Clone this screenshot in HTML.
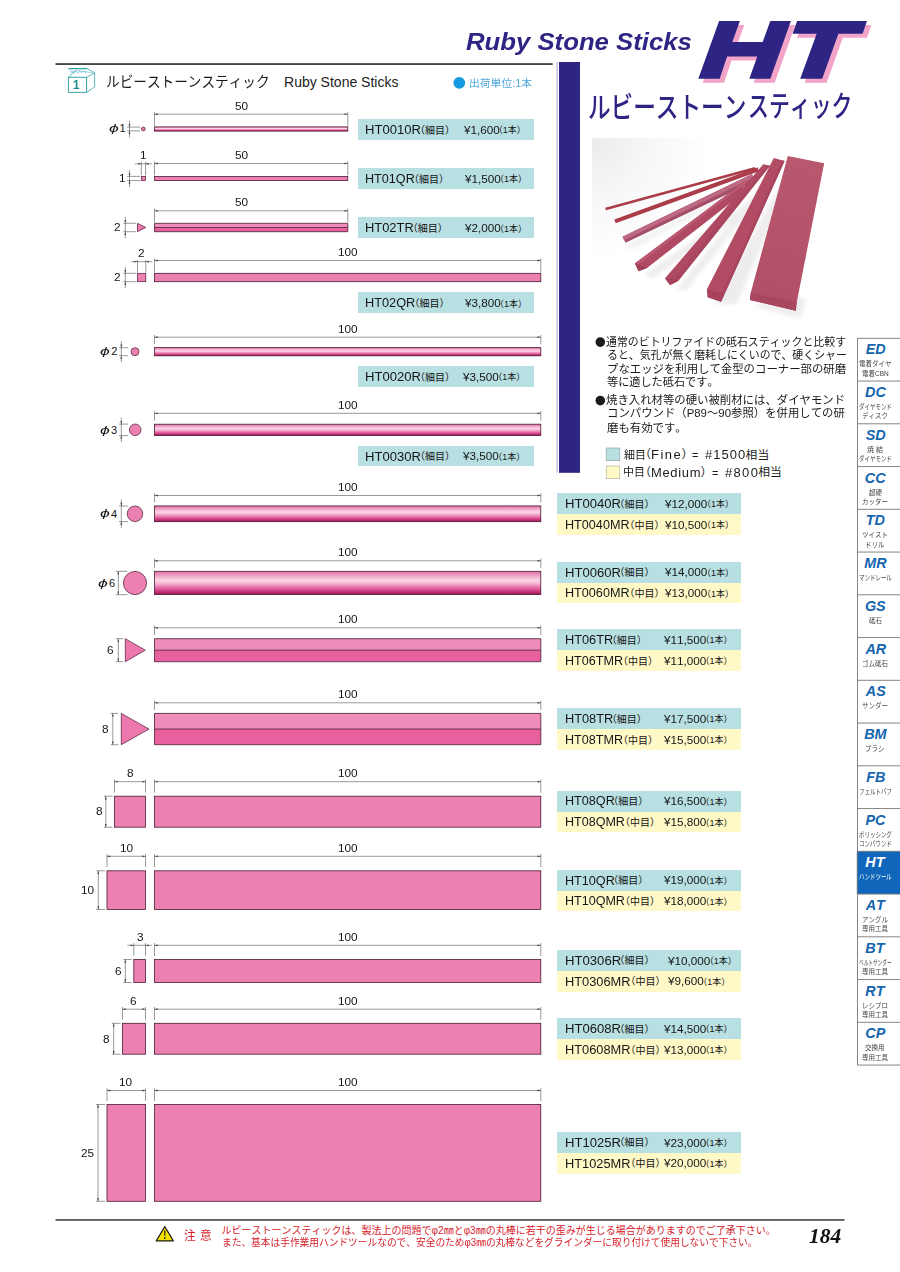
<!DOCTYPE html>
<html lang="ja"><head><meta charset="utf-8"><title>Ruby Stone Sticks HT</title><style>
html,body{margin:0;padding:0;background:#fff}
body{width:900px;height:1272px;position:relative;overflow:hidden;font-family:"Liberation Sans",sans-serif;font-kerning:none}
.gfx{position:absolute;left:0;top:0}
.bx{position:absolute}
.t{position:absolute;white-space:nowrap;transform-origin:0 0;font-family:"Liberation Sans",sans-serif;font-kerning:none;font-variant-ligatures:none}
.c{font-family:"Liberation Sans","Noto Sans CJK JP",sans-serif}
.sf{font-family:"Liberation Serif",serif}
.b{font-weight:700}.i{font-style:italic}
.j{position:absolute;overflow:visible}
</style></head>
<body>
<div class="bx" style="left:358px;top:119px;width:175.6px;height:20.7px;background:#b8dfe2"></div>
<div class="bx" style="left:358px;top:168.1px;width:175.6px;height:20.7px;background:#b8dfe2"></div>
<div class="bx" style="left:358px;top:217.2px;width:175.6px;height:20.7px;background:#b8dfe2"></div>
<div class="bx" style="left:358px;top:292.2px;width:175.6px;height:20.7px;background:#b8dfe2"></div>
<div class="bx" style="left:358px;top:366px;width:175.6px;height:20.7px;background:#b8dfe2"></div>
<div class="bx" style="left:358px;top:445.6px;width:175.6px;height:20.7px;background:#b8dfe2"></div>
<div class="bx" style="left:557.2px;top:493.2px;width:184.2px;height:21px;background:#b8dfe2"></div>
<div class="bx" style="left:557.2px;top:514.2px;width:184.2px;height:20.8px;background:#fff9c8"></div>
<div class="bx" style="left:557.2px;top:561.6px;width:184.2px;height:21px;background:#b8dfe2"></div>
<div class="bx" style="left:557.2px;top:582.6px;width:184.2px;height:20.8px;background:#fff9c8"></div>
<div class="bx" style="left:557.2px;top:629.2px;width:184.2px;height:21px;background:#b8dfe2"></div>
<div class="bx" style="left:557.2px;top:650.2px;width:184.2px;height:20.8px;background:#fff9c8"></div>
<div class="bx" style="left:557.2px;top:708.2px;width:184.2px;height:21px;background:#b8dfe2"></div>
<div class="bx" style="left:557.2px;top:729.2px;width:184.2px;height:20.8px;background:#fff9c8"></div>
<div class="bx" style="left:557.2px;top:790.5px;width:184.2px;height:21px;background:#b8dfe2"></div>
<div class="bx" style="left:557.2px;top:811.5px;width:184.2px;height:20.8px;background:#fff9c8"></div>
<div class="bx" style="left:557.2px;top:869.6px;width:184.2px;height:21px;background:#b8dfe2"></div>
<div class="bx" style="left:557.2px;top:890.6px;width:184.2px;height:20.8px;background:#fff9c8"></div>
<div class="bx" style="left:557.2px;top:949.8px;width:184.2px;height:21px;background:#b8dfe2"></div>
<div class="bx" style="left:557.2px;top:970.8px;width:184.2px;height:20.8px;background:#fff9c8"></div>
<div class="bx" style="left:557.2px;top:1018.2px;width:184.2px;height:21px;background:#b8dfe2"></div>
<div class="bx" style="left:557.2px;top:1039.2px;width:184.2px;height:20.8px;background:#fff9c8"></div>
<div class="bx" style="left:557.2px;top:1131.8px;width:184.2px;height:21px;background:#b8dfe2"></div>
<div class="bx" style="left:557.2px;top:1152.8px;width:184.2px;height:20.8px;background:#fff9c8"></div>
<svg class="gfx" width="900" height="1272" viewBox="0 0 900 1272"><defs><radialGradient id="pbg" gradientUnits="userSpaceOnUse" cx="592" cy="138" r="120"><stop offset="0" stop-color="#ebebeb"/><stop offset="0.5" stop-color="#f7f7f7"/><stop offset="1" stop-color="#ffffff"/></radialGradient><linearGradient id="b7" gradientUnits="userSpaceOnUse" x1="800" y1="160" x2="770" y2="300"><stop offset="0" stop-color="#b8586e"/><stop offset="1" stop-color="#b14f67"/></linearGradient><filter id="bl" x="-20%" y="-20%" width="140%" height="140%"><feGaussianBlur stdDeviation="2.2"/></filter></defs><rect x="592" y="138" width="125" height="125" fill="url(#pbg)"/><g fill="#cfc9cb" opacity="0.35" filter="url(#bl)"><path d="M645 274L757 196L760 200L652 279Z"/><path d="M676 290L772 172L778 174L686 290Z"/><path d="M714 304L790 168L796 170L736 304Z"/><path d="M752 306L800 318L806 300L800 296Z"/><path d="M627 246L750 184L751 187L630 249Z"/></g><line x1="605.6" y1="209" x2="755" y2="168.2" stroke="#ab3d49" stroke-width="2.7"/><line x1="615" y1="221.4" x2="758.3" y2="169.3" stroke="#ab3c49" stroke-width="4.1"/><path d="M622.5 236.7L752 174L754 181.5L625.5 242.7Z" fill="#a54e68"/><path d="M622.5 236.7L752 174L753 178L624.2 240.2Z" fill="#be6a84"/><path d="M635 263.3L746 180.5L740 195.5L647 268L638.5 271.3Z" fill="#b04a63"/><path d="M635 263.3L746 180.5L746.5 183L636.3 266Z" fill="#bb5a72"/><path d="M635 263.3L647 268L638.5 271.3Z" fill="#a23f58"/><path d="M763.3 164.3L770 165.8L678.3 280.8L670 285L665 278.3Z" fill="#b04a63"/><path d="M767.5 165.2L770 165.8L678.3 280.8L670 285L674.5 278.5Z" fill="#a9465f"/><path d="M665 278.3L674.5 278.5L678.3 280.8L670 285Z" fill="#a6425b"/><path d="M773.8 158L784.6 161L724.7 293.8L721.1 301.8L707.8 297.3L706.9 289.3Z" fill="#b24c65"/><path d="M782 160.3L784.6 161L724.7 293.8L721.9 293.1Z" fill="#a9465f"/><path d="M706.9 289.3L724.7 293.8L721.1 301.8L707.8 297.3Z" fill="#a6425c"/><path d="M787.8 156.1L824.2 163.3L796.7 302.5L795.8 310.8L750 300L750.8 292.5Z" fill="url(#b7)"/><path d="M750.8 292.5L796.7 302.5L795.8 310.8L750 300Z" fill="#a9465f"/></svg>
<svg class="gfx" width="900" height="1272" viewBox="0 0 900 1272"><rect x="55.5" y="63.3" width="497.2" height="1.5" fill="#1a1a1a"/><rect x="556.6" y="62" width="1" height="410.8" fill="#a5a1d3"/><rect x="559" y="62" width="21" height="410.8" fill="#2d2484"/><rect x="55.5" y="1219.3" width="789" height="1.3" fill="#1a1a1a"/><path transform="translate(4.4 4)" d="M719.1 21H739.9L732.3 42H762.7L770.3 21H790.9L770.3 78.7H749.3L757.3 56.5H727.1L719.7 78.7H698.3ZM797.1 21H867L862.5 33.8H838.4L822.2 78.7H800.2L816.7 33.8H792.6Z" fill="#f2a3c8"/><path transform="translate(0 0)" d="M719.1 21H739.9L732.3 42H762.7L770.3 21H790.9L770.3 78.7H749.3L757.3 56.5H727.1L719.7 78.7H698.3ZM797.1 21H867L862.5 33.8H838.4L822.2 78.7H800.2L816.7 33.8H792.6Z" fill="#2d2484"/><circle cx="459.3" cy="82.8" r="5.9" fill="#169ae0"/><g fill="none" stroke="#35a3a3" stroke-width="1"><path d="M68.4 77.3H86.6V92.4H68.4Z" fill="#fff"/><path d="M68.4 77.3L75.5 70.2M86.6 77.3L94.6 72.9V86.9L86.6 92.4M87.4 68.8L94.6 72.9" stroke-width="0.8"/><path d="M68.3 68.6H87.4" stroke-width="1.3"/><path d="M68.5 69L73.5 73.6M75.5 70.2L93 73" stroke-width="0.6" stroke="#6dbcbc"/><path d="M71 72.6l1.6-1.8 1.8 1.8 1.8-1.4 1.8 1.6 1.8-1.8 1.8 1.8 1.8-1.8 2 1.4 1.5-1.2" stroke="#6fc0ea" stroke-width="0.9"/></g><defs><linearGradient id="rg" x1="0" y1="0" x2="0" y2="1"><stop offset="0" stop-color="#dc78a7"/><stop offset="0.12" stop-color="#e98fb9"/><stop offset="0.28" stop-color="#f6bcd6"/><stop offset="0.4" stop-color="#fcd5e7"/><stop offset="0.52" stop-color="#f6b4d2"/><stop offset="0.66" stop-color="#ea7eb1"/><stop offset="0.8" stop-color="#d84a8e"/><stop offset="0.92" stop-color="#b62869"/><stop offset="1" stop-color="#8c1950"/></linearGradient></defs><rect x="154.5" y="126.9" width="193.3" height="4.2" fill="url(#rg)" stroke="#4a1a34" stroke-width="0.8"/><circle cx="143.3" cy="129" r="1.9" fill="#eb80b1" stroke="#4a1a34" stroke-width="0.7"/><rect x="154.5" y="176.4" width="193.3" height="4.2" fill="#eb80b1" stroke="#4a1a34" stroke-width="0.8"/><rect x="141.3" y="176.4" width="4.3" height="4.2" fill="#eb80b1" stroke="#4a1a34" stroke-width="0.7"/><rect x="154.5" y="223.3" width="193.3" height="4.2" fill="#ee8dba"/><rect x="154.5" y="227.5" width="193.3" height="4.2" fill="#e9609f"/><path d="M154.5 223.3H347.8V231.7H154.5ZM154.5 227.5H347.8" fill="none" stroke="#4a1a34" stroke-width="0.8"/><path d="M137.5 223.3V231.7L145.8 227.5Z" fill="#ec78ae" stroke="#4a1a34" stroke-width="0.7"/><rect x="154.5" y="273.3" width="386.3" height="8.4" fill="#eb80b1" stroke="#4a1a34" stroke-width="0.8"/><rect x="137.5" y="273.3" width="8.3" height="8.4" fill="#eb80b1" stroke="#4a1a34" stroke-width="0.7"/><rect x="154.5" y="347.6" width="386.3" height="8.2" fill="url(#rg)" stroke="#4a1a34" stroke-width="0.8"/><circle cx="135" cy="351.7" r="4" fill="#eb80b1" stroke="#4a1a34" stroke-width="0.7"/><rect x="154.5" y="424.2" width="386.3" height="11.3" fill="url(#rg)" stroke="#4a1a34" stroke-width="0.8"/><circle cx="135.2" cy="429.8" r="5.8" fill="#eb80b1" stroke="#4a1a34" stroke-width="0.7"/><rect x="154.5" y="505.9" width="386.3" height="15.8" fill="url(#rg)" stroke="#4a1a34" stroke-width="0.8"/><circle cx="135" cy="513.8" r="7.8" fill="#eb80b1" stroke="#4a1a34" stroke-width="0.7"/><rect x="154.5" y="571.3" width="386.3" height="23.3" fill="url(#rg)" stroke="#4a1a34" stroke-width="0.8"/><circle cx="135" cy="583" r="11.6" fill="#eb80b1" stroke="#4a1a34" stroke-width="0.7"/><rect x="154.5" y="638.7" width="386.3" height="11.5" fill="#ee8dba"/><rect x="154.5" y="650.2" width="386.3" height="11.5" fill="#e9609f"/><path d="M154.5 638.7H540.8V661.7H154.5ZM154.5 650.2H540.8" fill="none" stroke="#4a1a34" stroke-width="0.8"/><path d="M125.3 638.7V661.7L145.3 650.2Z" fill="#ec78ae" stroke="#4a1a34" stroke-width="0.7"/><rect x="154.5" y="713.4" width="386.3" height="15.65" fill="#ee8dba"/><rect x="154.5" y="729.05" width="386.3" height="15.65" fill="#e9609f"/><path d="M154.5 713.4H540.8V744.7H154.5ZM154.5 729.05H540.8" fill="none" stroke="#4a1a34" stroke-width="0.8"/><path d="M121.3 713.4V744.7L149 729.1Z" fill="#ec78ae" stroke="#4a1a34" stroke-width="0.7"/><rect x="154.5" y="796.2" width="386.3" height="31" fill="#eb80b1" stroke="#4a1a34" stroke-width="0.8"/><rect x="114.5" y="796.2" width="31" height="31" fill="#eb80b1" stroke="#4a1a34" stroke-width="0.8"/><rect x="154.5" y="870.8" width="386.3" height="38.7" fill="#eb80b1" stroke="#4a1a34" stroke-width="0.8"/><rect x="107" y="870.8" width="38.5" height="38.7" fill="#eb80b1" stroke="#4a1a34" stroke-width="0.8"/><rect x="154.5" y="959.5" width="386.3" height="23" fill="#eb80b1" stroke="#4a1a34" stroke-width="0.8"/><rect x="133.8" y="959.5" width="11.7" height="23" fill="#eb80b1" stroke="#4a1a34" stroke-width="0.8"/><rect x="154.5" y="1023.3" width="386.3" height="30.9" fill="#eb80b1" stroke="#4a1a34" stroke-width="0.8"/><rect x="122.5" y="1023.3" width="23" height="30.9" fill="#eb80b1" stroke="#4a1a34" stroke-width="0.8"/><rect x="154.5" y="1104.5" width="386.3" height="96.8" fill="#eb80b1" stroke="#4a1a34" stroke-width="0.8"/><rect x="107" y="1104.5" width="38.5" height="96.8" fill="#eb80b1" stroke="#4a1a34" stroke-width="0.8"/><path d="M154.5 112V125.9M347.8 112V125.9M154.5 114.2H347.8M127 127.1H140M127 130.9H140M129.5 120.6V137.4M154.5 161.3V175.4M347.8 161.3V175.4M154.5 163.5H347.8M141.3 161.7V175.3M145.6 161.7V175.3M134.8 163.8H152.1M127 176.4H140M127 180.6H140M129.5 169.9V187.1M154.5 208.6V222.3M347.8 208.6V222.3M154.5 210.8H347.8M123.3 223.3H135.8M123.3 231.7H135.8M125.3 216.8V238.2M154.5 258.3V272.3M540.8 258.3V272.3M154.5 260.5H540.8M137.5 260V272.3M145.8 260V272.3M131 261.7H152.3M123.3 273.3H135.8M123.3 281.7H135.8M125.3 266.8V288.2M154.5 335V344.1M540.8 335V344.1M154.5 337.2H540.8M119 347.7H128M119 355.7H128M121.3 341.2V362.2M154.5 411.1V420.7M540.8 411.1V420.7M154.5 413.3H540.8M119 424.1H128M119 435.6H128M121.3 417.6V442.1M154.5 493.3V502.4M540.8 493.3V502.4M154.5 495.5H540.8M119 506H128M119 521.6H128M121.3 499.5V528.1M154.5 558.6V567.8M540.8 558.6V567.8M154.5 560.8H540.8M115.8 571.3H127.5M115.8 594.7H127.5M118.3 571.3V594.7M154.5 625.6V635.2M540.8 625.6V635.2M154.5 627.8H540.8M115.8 638.7H123.3M115.8 661.7H123.3M118.3 638.7V661.7M154.5 700.6V709.9M540.8 700.6V709.9M154.5 702.8H540.8M110.8 713.4H118.3M110.8 744.7H118.3M112.8 713.4V744.7M154.5 779.5V792.7M540.8 779.5V792.7M154.5 781.7H540.8M114.5 779.5V792.5M145.5 779.5V792.5M114.5 781.7H145.5M103.8 796.2H112.5M103.8 827.2H112.5M105.8 796.2V827.2M154.5 854.1V867.3M540.8 854.1V867.3M154.5 856.3H540.8M107 854.1V867M145.5 854.1V867M107 856.3H145.5M96.2 870.8H105M96.2 909.5H105M98.3 870.8V909.5M154.5 943.1V956M540.8 943.1V956M154.5 945.3H540.8M133.8 943.1V955.8M145.5 943.1V955.8M127.3 945.3H152M123.3 959.5H131.7M123.3 982.5H131.7M125.3 959.5V982.5M154.5 1007V1019.8M540.8 1007V1019.8M154.5 1009.2H540.8M122.5 1007V1019.8M145.5 1007V1019.8M122.5 1009.2H145.5M111.7 1023.3H120.5M111.7 1054.2H120.5M113.7 1023.3V1054.2M154.5 1088.3V1101M540.8 1088.3V1101M154.5 1090.5H540.8M107 1088.3V1100.8M145.5 1088.3V1100.8M107 1090.5H145.5M95.8 1104.5H105M95.8 1201.3H105M98 1104.5V1201.3" fill="none" stroke="#444" stroke-width="0.55"/><path d="M154.5 114.2L157.7 113.3L157.7 115.1ZM347.8 114.2L344.6 115.1L344.6 113.3ZM129.5 127.1L128.6 123.9L130.4 123.9ZM129.5 130.9L130.4 134.1L128.6 134.1ZM154.5 163.5L157.7 162.6L157.7 164.4ZM347.8 163.5L344.6 164.4L344.6 162.6ZM141.3 163.8L138.1 164.7L138.1 162.9ZM145.6 163.8L148.8 162.9L148.8 164.7ZM129.5 176.4L128.6 173.2L130.4 173.2ZM129.5 180.6L130.4 183.8L128.6 183.8ZM154.5 210.8L157.7 209.9L157.7 211.7ZM347.8 210.8L344.6 211.7L344.6 209.9ZM125.3 223.3L124.4 220.1L126.2 220.1ZM125.3 231.7L126.2 234.9L124.4 234.9ZM154.5 260.5L157.7 259.6L157.7 261.4ZM540.8 260.5L537.6 261.4L537.6 259.6ZM137.5 261.7L134.3 262.6L134.3 260.8ZM145.8 261.7L149 260.8L149 262.6ZM125.3 273.3L124.4 270.1L126.2 270.1ZM125.3 281.7L126.2 284.9L124.4 284.9ZM154.5 337.2L157.7 336.3L157.7 338.1ZM540.8 337.2L537.6 338.1L537.6 336.3ZM121.3 347.7L120.4 344.5L122.2 344.5ZM121.3 355.7L122.2 358.9L120.4 358.9ZM154.5 413.3L157.7 412.4L157.7 414.2ZM540.8 413.3L537.6 414.2L537.6 412.4ZM121.3 424.1L120.4 420.9L122.2 420.9ZM121.3 435.6L122.2 438.8L120.4 438.8ZM154.5 495.5L157.7 494.6L157.7 496.4ZM540.8 495.5L537.6 496.4L537.6 494.6ZM121.3 506L120.4 502.8L122.2 502.8ZM121.3 521.6L122.2 524.8L120.4 524.8ZM154.5 560.8L157.7 559.9L157.7 561.7ZM540.8 560.8L537.6 561.7L537.6 559.9ZM118.3 571.3L119.2 574.5L117.4 574.5ZM118.3 594.7L117.4 591.5L119.2 591.5ZM154.5 627.8L157.7 626.9L157.7 628.7ZM540.8 627.8L537.6 628.7L537.6 626.9ZM118.3 638.7L119.2 641.9L117.4 641.9ZM118.3 661.7L117.4 658.5L119.2 658.5ZM154.5 702.8L157.7 701.9L157.7 703.7ZM540.8 702.8L537.6 703.7L537.6 701.9ZM112.8 713.4L113.7 716.6L111.9 716.6ZM112.8 744.7L111.9 741.5L113.7 741.5ZM154.5 781.7L157.7 780.8L157.7 782.6ZM540.8 781.7L537.6 782.6L537.6 780.8ZM114.5 781.7L117.7 780.8L117.7 782.6ZM145.5 781.7L142.3 782.6L142.3 780.8ZM105.8 796.2L106.7 799.4L104.9 799.4ZM105.8 827.2L104.9 824L106.7 824ZM154.5 856.3L157.7 855.4L157.7 857.2ZM540.8 856.3L537.6 857.2L537.6 855.4ZM107 856.3L110.2 855.4L110.2 857.2ZM145.5 856.3L142.3 857.2L142.3 855.4ZM98.3 870.8L99.2 874L97.4 874ZM98.3 909.5L97.4 906.3L99.2 906.3ZM154.5 945.3L157.7 944.4L157.7 946.2ZM540.8 945.3L537.6 946.2L537.6 944.4ZM133.8 945.3L130.6 946.2L130.6 944.4ZM145.5 945.3L148.7 944.4L148.7 946.2ZM125.3 959.5L126.2 962.7L124.4 962.7ZM125.3 982.5L124.4 979.3L126.2 979.3ZM154.5 1009.2L157.7 1008.3L157.7 1010.1ZM540.8 1009.2L537.6 1010.1L537.6 1008.3ZM122.5 1009.2L125.7 1008.3L125.7 1010.1ZM145.5 1009.2L142.3 1010.1L142.3 1008.3ZM113.7 1023.3L114.6 1026.5L112.8 1026.5ZM113.7 1054.2L112.8 1051L114.6 1051ZM154.5 1090.5L157.7 1089.6L157.7 1091.4ZM540.8 1090.5L537.6 1091.4L537.6 1089.6ZM107 1090.5L110.2 1089.6L110.2 1091.4ZM145.5 1090.5L142.3 1091.4L142.3 1089.6ZM98 1104.5L98.9 1107.7L97.1 1107.7ZM98 1201.3L97.1 1198.1L98.9 1198.1Z" fill="#444"/><circle cx="600.3" cy="342.1" r="4.8" fill="#1a1a1a"/><circle cx="600.3" cy="400.6" r="4.8" fill="#1a1a1a"/><rect x="606.2" y="448" width="13.6" height="12.7" fill="#b8dfe2" stroke="#8a9a9a" stroke-width="0.6"/><rect x="606.2" y="466" width="13.6" height="12.7" fill="#fff9c8" stroke="#a8a890" stroke-width="0.6"/><rect x="856.8" y="851.3" width="43.4" height="42.75" fill="#0f66ba"/><path d="M857.5 338.3V1065.05M857.2 338.3H900M857.2 381.05H900M857.2 423.8H900M857.2 466.55H900M857.2 509.3H900M857.2 552.05H900M857.2 594.8H900M857.2 637.55H900M857.2 680.3H900M857.2 723.05H900M857.2 765.8H900M857.2 808.55H900M857.2 851.3H900M857.2 894.05H900M857.2 936.8H900M857.2 979.55H900M857.2 1022.3H900M857.2 1065.05H900" fill="none" stroke="#777" stroke-width="0.9"/><path d="M164.8 1226.6L173.4 1240.9H156.2Z" fill="#f2e100" stroke="#1a1a1a" stroke-width="1.1" stroke-linejoin="round"/><path d="M164.1 1230.6h1.4l-0.3 5.6h-0.8zM164.8 1237.2a0.8 0.8 0 1 0 0.01 0z" fill="#1a1a1a"/></svg>
<span class="t" style="left:235.25px;top:100.59px;font-size:11px;line-height:11px;color:#151515;transform:scaleX(1.070);">50</span>
<span class="t i" style="left:108.64px;top:123.36px;font-size:11.5px;line-height:11.5px;color:#151515;transform:scaleX(1.521);">ϕ</span>
<span class="t" style="left:119.42px;top:123.49px;font-size:11px;line-height:11px;color:#151515;">1</span>
<span class="t" style="left:235.25px;top:149.89px;font-size:11px;line-height:11px;color:#151515;transform:scaleX(1.070);">50</span>
<span class="t" style="left:139.97px;top:150.39px;font-size:11px;line-height:11px;color:#151515;transform:scaleX(1.070);">1</span>
<span class="t" style="left:119.4px;top:172.99px;font-size:11px;line-height:11px;color:#151515;transform:scaleX(1.070);">1</span>
<span class="t" style="left:235.25px;top:197.19px;font-size:11px;line-height:11px;color:#151515;transform:scaleX(1.070);">50</span>
<span class="t" style="left:114.41px;top:221.59px;font-size:11px;line-height:11px;color:#151515;transform:scaleX(1.070);">2</span>
<span class="t" style="left:337.61px;top:246.89px;font-size:11px;line-height:11px;color:#151515;transform:scaleX(1.070);">100</span>
<span class="t" style="left:138.43px;top:248.29px;font-size:11px;line-height:11px;color:#151515;transform:scaleX(1.070);">2</span>
<span class="t" style="left:114.41px;top:271.99px;font-size:11px;line-height:11px;color:#151515;transform:scaleX(1.070);">2</span>
<span class="t" style="left:337.61px;top:323.59px;font-size:11px;line-height:11px;color:#151515;transform:scaleX(1.070);">100</span>
<span class="t i" style="left:99.74px;top:346.16px;font-size:11.5px;line-height:11.5px;color:#151515;transform:scaleX(1.521);">ϕ</span>
<span class="t" style="left:111.14px;top:346.29px;font-size:11px;line-height:11px;color:#151515;">2</span>
<span class="t" style="left:337.61px;top:399.69px;font-size:11px;line-height:11px;color:#151515;transform:scaleX(1.070);">100</span>
<span class="t i" style="left:99.74px;top:424.56px;font-size:11.5px;line-height:11.5px;color:#151515;transform:scaleX(1.521);">ϕ</span>
<span class="t" style="left:111.07px;top:424.69px;font-size:11px;line-height:11px;color:#151515;">3</span>
<span class="t" style="left:337.61px;top:481.89px;font-size:11px;line-height:11px;color:#151515;transform:scaleX(1.070);">100</span>
<span class="t i" style="left:99.74px;top:508.46px;font-size:11.5px;line-height:11.5px;color:#151515;transform:scaleX(1.521);">ϕ</span>
<span class="t" style="left:110.9px;top:508.59px;font-size:11px;line-height:11px;color:#151515;">4</span>
<span class="t" style="left:337.61px;top:547.19px;font-size:11px;line-height:11px;color:#151515;transform:scaleX(1.070);">100</span>
<span class="t i" style="left:97.74px;top:578.16px;font-size:11.5px;line-height:11.5px;color:#151515;transform:scaleX(1.521);">ϕ</span>
<span class="t" style="left:109.07px;top:578.29px;font-size:11px;line-height:11px;color:#151515;">6</span>
<span class="t" style="left:337.61px;top:614.19px;font-size:11px;line-height:11px;color:#151515;transform:scaleX(1.070);">100</span>
<span class="t" style="left:107.4px;top:645.39px;font-size:11px;line-height:11px;color:#151515;transform:scaleX(1.070);">6</span>
<span class="t" style="left:337.61px;top:689.19px;font-size:11px;line-height:11px;color:#151515;transform:scaleX(1.070);">100</span>
<span class="t" style="left:102.49px;top:723.99px;font-size:11px;line-height:11px;color:#151515;transform:scaleX(1.070);">8</span>
<span class="t" style="left:337.61px;top:768.09px;font-size:11px;line-height:11px;color:#151515;transform:scaleX(1.070);">100</span>
<span class="t" style="left:127.33px;top:768.29px;font-size:11px;line-height:11px;color:#151515;transform:scaleX(1.070);">8</span>
<span class="t" style="left:95.69px;top:805.69px;font-size:11px;line-height:11px;color:#151515;transform:scaleX(1.070);">8</span>
<span class="t" style="left:337.61px;top:842.69px;font-size:11px;line-height:11px;color:#151515;transform:scaleX(1.070);">100</span>
<span class="t" style="left:119.84px;top:842.99px;font-size:11px;line-height:11px;color:#151515;transform:scaleX(1.070);">10</span>
<span class="t" style="left:81.1px;top:884.99px;font-size:11px;line-height:11px;color:#151515;transform:scaleX(1.070);">10</span>
<span class="t" style="left:337.61px;top:931.69px;font-size:11px;line-height:11px;color:#151515;transform:scaleX(1.070);">100</span>
<span class="t" style="left:136.96px;top:931.59px;font-size:11px;line-height:11px;color:#151515;transform:scaleX(1.070);">3</span>
<span class="t" style="left:115.2px;top:966.29px;font-size:11px;line-height:11px;color:#151515;transform:scaleX(1.070);">6</span>
<span class="t" style="left:337.61px;top:995.59px;font-size:11px;line-height:11px;color:#151515;transform:scaleX(1.070);">100</span>
<span class="t" style="left:130.49px;top:995.69px;font-size:11px;line-height:11px;color:#151515;transform:scaleX(1.070);">6</span>
<span class="t" style="left:103.39px;top:1033.59px;font-size:11px;line-height:11px;color:#151515;transform:scaleX(1.070);">8</span>
<span class="t" style="left:337.61px;top:1076.89px;font-size:11px;line-height:11px;color:#151515;transform:scaleX(1.070);">100</span>
<span class="t" style="left:119.24px;top:1076.59px;font-size:11px;line-height:11px;color:#151515;transform:scaleX(1.070);">10</span>
<span class="t" style="left:80.91px;top:1147.79px;font-size:11px;line-height:11px;color:#151515;transform:scaleX(1.070);">25</span>
<span class="t" style="left:365.13px;top:124.04px;font-size:12px;line-height:12px;color:#151515;transform:scaleX(1.090);">HT0010R</span>
<span class="t c" style="left:415px;top:125.5px;font-size:10px;line-height:10px;color:#151515;">（細目）</span>
<span class="t" style="left:463.81px;top:124.89px;font-size:11px;line-height:11px;color:#151515;transform:scaleX(1.065);">¥1,600</span>
<span class="t c" style="left:493.8px;top:126.35px;font-size:9px;line-height:9px;color:#151515;">（1本）</span>
<span class="t" style="left:365.16px;top:173.14px;font-size:12px;line-height:12px;color:#151515;transform:scaleX(1.052);">HT01QR</span>
<span class="t c" style="left:408.9px;top:174.6px;font-size:10px;line-height:10px;color:#151515;">（細目）</span>
<span class="t" style="left:465.11px;top:173.99px;font-size:11px;line-height:11px;color:#151515;transform:scaleX(1.065);">¥1,500</span>
<span class="t c" style="left:495.1px;top:175.45px;font-size:9px;line-height:9px;color:#151515;">（1本）</span>
<span class="t" style="left:365.14px;top:222.24px;font-size:12px;line-height:12px;color:#151515;transform:scaleX(1.075);">HT02TR</span>
<span class="t c" style="left:407.8px;top:223.7px;font-size:10px;line-height:10px;color:#151515;">（細目）</span>
<span class="t" style="left:465.11px;top:223.09px;font-size:11px;line-height:11px;color:#151515;transform:scaleX(1.065);">¥2,000</span>
<span class="t c" style="left:495.1px;top:224.55px;font-size:9px;line-height:9px;color:#151515;">（1本）</span>
<span class="t" style="left:365.15px;top:297.24px;font-size:12px;line-height:12px;color:#151515;transform:scaleX(1.063);">HT02QR</span>
<span class="t c" style="left:409.4px;top:298.7px;font-size:10px;line-height:10px;color:#151515;">（細目）</span>
<span class="t" style="left:465.11px;top:298.09px;font-size:11px;line-height:11px;color:#151515;transform:scaleX(1.065);">¥3,800</span>
<span class="t c" style="left:495.1px;top:299.55px;font-size:9px;line-height:9px;color:#151515;">（1本）</span>
<span class="t" style="left:365.13px;top:371.04px;font-size:12px;line-height:12px;color:#151515;transform:scaleX(1.090);">HT0020R</span>
<span class="t c" style="left:415px;top:372.5px;font-size:10px;line-height:10px;color:#151515;">（細目）</span>
<span class="t" style="left:463.31px;top:371.89px;font-size:11px;line-height:11px;color:#151515;transform:scaleX(1.065);">¥3,500</span>
<span class="t c" style="left:493.3px;top:373.35px;font-size:9px;line-height:9px;color:#151515;">（1本）</span>
<span class="t" style="left:365.13px;top:450.64px;font-size:12px;line-height:12px;color:#151515;transform:scaleX(1.090);">HT0030R</span>
<span class="t c" style="left:415px;top:452.1px;font-size:10px;line-height:10px;color:#151515;">（細目）</span>
<span class="t" style="left:463.31px;top:451.49px;font-size:11px;line-height:11px;color:#151515;transform:scaleX(1.065);">¥3,500</span>
<span class="t c" style="left:493.3px;top:452.95px;font-size:9px;line-height:9px;color:#151515;">（1本）</span>
<span class="t" style="left:564.53px;top:498.14px;font-size:12px;line-height:12px;color:#151515;transform:scaleX(1.092);">HT0040R</span>
<span class="t c" style="left:614.5px;top:499.6px;font-size:10px;line-height:10px;color:#151515;">（細目）</span>
<span class="t" style="left:665.41px;top:498.99px;font-size:11px;line-height:11px;color:#151515;transform:scaleX(1.065);">¥12,000</span>
<span class="t c" style="left:701.9px;top:500.45px;font-size:9px;line-height:9px;color:#151515;">（1本）</span>
<span class="t" style="left:564.56px;top:519.04px;font-size:12px;line-height:12px;color:#151515;transform:scaleX(1.052);">HT0040MR</span>
<span class="t c" style="left:624.5px;top:520.5px;font-size:10px;line-height:10px;color:#151515;">（中目）</span>
<span class="t" style="left:665.41px;top:519.89px;font-size:11px;line-height:11px;color:#151515;transform:scaleX(1.065);">¥10,500</span>
<span class="t c" style="left:701.9px;top:521.35px;font-size:9px;line-height:9px;color:#151515;">（1本）</span>
<span class="t" style="left:564.53px;top:566.54px;font-size:12px;line-height:12px;color:#151515;transform:scaleX(1.092);">HT0060R</span>
<span class="t c" style="left:614.5px;top:568px;font-size:10px;line-height:10px;color:#151515;">（細目）</span>
<span class="t" style="left:665.41px;top:567.39px;font-size:11px;line-height:11px;color:#151515;transform:scaleX(1.065);">¥14,000</span>
<span class="t c" style="left:701.9px;top:568.85px;font-size:9px;line-height:9px;color:#151515;">（1本）</span>
<span class="t" style="left:564.56px;top:587.44px;font-size:12px;line-height:12px;color:#151515;transform:scaleX(1.052);">HT0060MR</span>
<span class="t c" style="left:624.5px;top:588.9px;font-size:10px;line-height:10px;color:#151515;">（中目）</span>
<span class="t" style="left:665.41px;top:588.29px;font-size:11px;line-height:11px;color:#151515;transform:scaleX(1.065);">¥13,000</span>
<span class="t c" style="left:701.9px;top:589.75px;font-size:9px;line-height:9px;color:#151515;">（1本）</span>
<span class="t" style="left:564.55px;top:634.14px;font-size:12px;line-height:12px;color:#151515;transform:scaleX(1.064);">HT06TR</span>
<span class="t c" style="left:606.7px;top:635.6px;font-size:10px;line-height:10px;color:#151515;">（細目）</span>
<span class="t" style="left:664.01px;top:634.99px;font-size:11px;line-height:11px;color:#151515;transform:scaleX(1.065);">¥11,500</span>
<span class="t c" style="left:700.5px;top:636.45px;font-size:9px;line-height:9px;color:#151515;">（1本）</span>
<span class="t" style="left:564.57px;top:655.04px;font-size:12px;line-height:12px;color:#151515;transform:scaleX(1.048);">HT06TMR</span>
<span class="t c" style="left:618px;top:656.5px;font-size:10px;line-height:10px;color:#151515;">（中目）</span>
<span class="t" style="left:664.01px;top:655.89px;font-size:11px;line-height:11px;color:#151515;transform:scaleX(1.065);">¥11,000</span>
<span class="t c" style="left:700.5px;top:657.35px;font-size:9px;line-height:9px;color:#151515;">（1本）</span>
<span class="t" style="left:564.55px;top:713.14px;font-size:12px;line-height:12px;color:#151515;transform:scaleX(1.064);">HT08TR</span>
<span class="t c" style="left:606.7px;top:714.6px;font-size:10px;line-height:10px;color:#151515;">（細目）</span>
<span class="t" style="left:664.01px;top:713.99px;font-size:11px;line-height:11px;color:#151515;transform:scaleX(1.065);">¥17,500</span>
<span class="t c" style="left:700.5px;top:715.45px;font-size:9px;line-height:9px;color:#151515;">（1本）</span>
<span class="t" style="left:564.57px;top:734.04px;font-size:12px;line-height:12px;color:#151515;transform:scaleX(1.048);">HT08TMR</span>
<span class="t c" style="left:618px;top:735.5px;font-size:10px;line-height:10px;color:#151515;">（中目）</span>
<span class="t" style="left:664.01px;top:734.89px;font-size:11px;line-height:11px;color:#151515;transform:scaleX(1.065);">¥15,500</span>
<span class="t c" style="left:700.5px;top:736.35px;font-size:9px;line-height:9px;color:#151515;">（1本）</span>
<span class="t" style="left:564.56px;top:795.44px;font-size:12px;line-height:12px;color:#151515;transform:scaleX(1.052);">HT08QR</span>
<span class="t c" style="left:608.3px;top:796.9px;font-size:10px;line-height:10px;color:#151515;">（細目）</span>
<span class="t" style="left:664.01px;top:796.29px;font-size:11px;line-height:11px;color:#151515;transform:scaleX(1.065);">¥16,500</span>
<span class="t c" style="left:700.5px;top:797.75px;font-size:9px;line-height:9px;color:#151515;">（1本）</span>
<span class="t" style="left:564.57px;top:816.34px;font-size:12px;line-height:12px;color:#151515;transform:scaleX(1.045);">HT08QMR</span>
<span class="t c" style="left:619.9px;top:817.8px;font-size:10px;line-height:10px;color:#151515;">（中目）</span>
<span class="t" style="left:664.01px;top:817.19px;font-size:11px;line-height:11px;color:#151515;transform:scaleX(1.065);">¥15,800</span>
<span class="t c" style="left:700.5px;top:818.65px;font-size:9px;line-height:9px;color:#151515;">（1本）</span>
<span class="t" style="left:564.56px;top:874.54px;font-size:12px;line-height:12px;color:#151515;transform:scaleX(1.052);">HT10QR</span>
<span class="t c" style="left:608.3px;top:876px;font-size:10px;line-height:10px;color:#151515;">（細目）</span>
<span class="t" style="left:664.01px;top:875.39px;font-size:11px;line-height:11px;color:#151515;transform:scaleX(1.065);">¥19,000</span>
<span class="t c" style="left:700.5px;top:876.85px;font-size:9px;line-height:9px;color:#151515;">（1本）</span>
<span class="t" style="left:564.57px;top:895.44px;font-size:12px;line-height:12px;color:#151515;transform:scaleX(1.045);">HT10QMR</span>
<span class="t c" style="left:619.9px;top:896.9px;font-size:10px;line-height:10px;color:#151515;">（中目）</span>
<span class="t" style="left:664.01px;top:896.29px;font-size:11px;line-height:11px;color:#151515;transform:scaleX(1.065);">¥18,000</span>
<span class="t c" style="left:700.5px;top:897.75px;font-size:9px;line-height:9px;color:#151515;">（1本）</span>
<span class="t" style="left:564.52px;top:954.74px;font-size:12px;line-height:12px;color:#151515;transform:scaleX(1.094);">HT0306R</span>
<span class="t c" style="left:614.6px;top:956.2px;font-size:10px;line-height:10px;color:#151515;">（細目）</span>
<span class="t" style="left:668.21px;top:955.59px;font-size:11px;line-height:11px;color:#151515;transform:scaleX(1.065);">¥10,000</span>
<span class="t c" style="left:704.7px;top:957.05px;font-size:9px;line-height:9px;color:#151515;">（1本）</span>
<span class="t" style="left:564.55px;top:975.64px;font-size:12px;line-height:12px;color:#151515;transform:scaleX(1.068);">HT0306MR</span>
<span class="t c" style="left:625.5px;top:977.1px;font-size:10px;line-height:10px;color:#151515;">（中目）</span>
<span class="t" style="left:668.21px;top:976.49px;font-size:11px;line-height:11px;color:#151515;transform:scaleX(1.065);">¥9,600</span>
<span class="t c" style="left:698.2px;top:977.95px;font-size:9px;line-height:9px;color:#151515;">（1本）</span>
<span class="t" style="left:564.53px;top:1023.14px;font-size:12px;line-height:12px;color:#151515;transform:scaleX(1.092);">HT0608R</span>
<span class="t c" style="left:614.5px;top:1024.6px;font-size:10px;line-height:10px;color:#151515;">（細目）</span>
<span class="t" style="left:664.01px;top:1023.99px;font-size:11px;line-height:11px;color:#151515;transform:scaleX(1.065);">¥14,500</span>
<span class="t c" style="left:700.5px;top:1025.45px;font-size:9px;line-height:9px;color:#151515;">（1本）</span>
<span class="t" style="left:564.55px;top:1044.04px;font-size:12px;line-height:12px;color:#151515;transform:scaleX(1.068);">HT0608MR</span>
<span class="t c" style="left:625.5px;top:1045.5px;font-size:10px;line-height:10px;color:#151515;">（中目）</span>
<span class="t" style="left:664.01px;top:1044.89px;font-size:11px;line-height:11px;color:#151515;transform:scaleX(1.065);">¥13,000</span>
<span class="t c" style="left:700.5px;top:1046.35px;font-size:9px;line-height:9px;color:#151515;">（1本）</span>
<span class="t" style="left:564.53px;top:1136.74px;font-size:12px;line-height:12px;color:#151515;transform:scaleX(1.092);">HT1025R</span>
<span class="t c" style="left:614.5px;top:1138.2px;font-size:10px;line-height:10px;color:#151515;">（細目）</span>
<span class="t" style="left:664.01px;top:1137.59px;font-size:11px;line-height:11px;color:#151515;transform:scaleX(1.065);">¥23,000</span>
<span class="t c" style="left:700.5px;top:1139.05px;font-size:9px;line-height:9px;color:#151515;">（1本）</span>
<span class="t" style="left:564.55px;top:1157.64px;font-size:12px;line-height:12px;color:#151515;transform:scaleX(1.068);">HT1025MR</span>
<span class="t c" style="left:625.5px;top:1159.1px;font-size:10px;line-height:10px;color:#151515;">（中目）</span>
<span class="t" style="left:664.01px;top:1158.49px;font-size:11px;line-height:11px;color:#151515;transform:scaleX(1.065);">¥20,000</span>
<span class="t c" style="left:700.5px;top:1159.95px;font-size:9px;line-height:9px;color:#151515;">（1本）</span>
<span class="t b i" style="left:465.85px;top:30.87px;font-size:23.3px;line-height:23.3px;color:#2d2484;transform:scaleX(1.104);">Ruby Stone Sticks</span>
<span class="t c" style="left:587.5px;top:94px;font-size:29px;line-height:29px;font-weight:500;color:#2d2484;transform:scaleX(0.78);">ルビーストーン</span>
<span class="t c" style="left:747.8px;top:93px;font-size:29px;line-height:29px;font-weight:500;color:#2d2484;transform:scaleX(0.72);">スティック</span>
<span class="t b" style="left:73.16px;top:78.29px;font-size:13.6px;line-height:13.6px;color:#1b8c8c;transform:scaleX(0.869);">1</span>
<span class="t c" style="left:105.5px;top:74.7px;font-size:14.4px;line-height:14.4px;color:#1a1a1a;transform:scaleX(0.947);">ルビーストーンスティック</span>
<span class="t" style="left:284.05px;top:74.85px;font-size:14px;line-height:14px;color:#222;">Ruby Stone Sticks</span>
<span class="t c" style="left:469px;top:78.6px;font-size:10.4px;line-height:10.4px;color:#4da6dc;transform:scaleX(1.04);">出荷単位:1本</span>
<span class="t c" style="left:606.3px;top:336.87px;font-size:11.5px;line-height:11.5px;color:#1a1a1a;transform:scaleX(0.949);">通常のビトリファイドの砥石スティックと比較す</span>
<span class="t c" style="left:606.7px;top:350.3px;font-size:11.5px;line-height:11.5px;color:#1a1a1a;transform:scaleX(0.948);">ると、気孔が無く磨耗しにくいので、硬くシャー</span>
<span class="t c" style="left:606.7px;top:364.03px;font-size:11.5px;line-height:11.5px;color:#1a1a1a;transform:scaleX(0.99);">プなエッジを利用して金型のコーナー部の研磨</span>
<span class="t c" style="left:606.7px;top:377.41px;font-size:11.5px;line-height:11.5px;color:#1a1a1a;transform:scaleX(0.97);">等に適した砥石です。</span>
<span class="t c" style="left:606.2px;top:395.09px;font-size:11.5px;line-height:11.5px;color:#1a1a1a;transform:scaleX(0.99);">焼き入れ材等の硬い被削材には、ダイヤモンド</span>
<span class="t c" style="left:606.5px;top:408.48px;font-size:11.5px;line-height:11.5px;color:#1a1a1a;transform:scaleX(0.99);">コンパウンド（P89〜90参照）を併用しての研</span>
<span class="t c" style="left:606.5px;top:422.65px;font-size:11.5px;line-height:11.5px;color:#1a1a1a;transform:scaleX(0.99);">磨も有効です。</span>
<span class="t c" style="left:623.6px;top:449.57px;font-size:11.8px;line-height:11.8px;color:#1a1a1a;transform:scaleX(0.93);">細目</span>
<span class="t c" style="left:639.3px;top:449.48px;font-size:11.8px;line-height:11.8px;color:#1a1a1a;">（</span>
<span class="t" style="left:650.64px;top:449.24px;font-size:12px;line-height:12px;color:#1a1a1a;transform:scaleX(1.080);letter-spacing:1.4px;">Fine</span>
<span class="t c" style="left:681.6px;top:449.48px;font-size:11.8px;line-height:11.8px;color:#1a1a1a;">）</span>
<span class="t" style="left:692.37px;top:449.24px;font-size:12px;line-height:12px;color:#1a1a1a;transform:scaleX(0.909);">=</span>
<span class="t" style="left:704.84px;top:449.24px;font-size:12px;line-height:12px;color:#1a1a1a;transform:scaleX(1.080);letter-spacing:0.98px;">#1500</span>
<span class="t c" style="left:745.6px;top:449.55px;font-size:11.8px;line-height:11.8px;color:#1a1a1a;">相当</span>
<span class="t c" style="left:623.3px;top:467.47px;font-size:11.8px;line-height:11.8px;color:#1a1a1a;transform:scaleX(0.93);">中目</span>
<span class="t c" style="left:639.3px;top:467.38px;font-size:11.8px;line-height:11.8px;color:#1a1a1a;">（</span>
<span class="t" style="left:650.64px;top:467.14px;font-size:12px;line-height:12px;color:#1a1a1a;transform:scaleX(1.080);letter-spacing:0.62px;">Medium</span>
<span class="t c" style="left:700.4px;top:467.38px;font-size:11.8px;line-height:11.8px;color:#1a1a1a;">）</span>
<span class="t" style="left:712.37px;top:467.14px;font-size:12px;line-height:12px;color:#1a1a1a;transform:scaleX(0.909);">=</span>
<span class="t" style="left:724.94px;top:467.14px;font-size:12px;line-height:12px;color:#1a1a1a;transform:scaleX(1.080);letter-spacing:1.24px;">#800</span>
<span class="t c" style="left:758.2px;top:467.45px;font-size:11.8px;line-height:11.8px;color:#1a1a1a;">相当</span>
<span class="t b i" style="left:865.68px;top:342.31px;font-size:14.4px;line-height:14.4px;color:#1565ae;">ED</span>
<span class="t c" style="left:858.9px;top:360.4px;font-size:7.4px;line-height:7.4px;color:#444;transform:scaleX(0.88);">電着ダイヤ</span>
<span class="t c" style="left:861.65px;top:369.5px;font-size:7.4px;line-height:7.4px;color:#444;transform:scaleX(0.88);">電着CBN</span>
<span class="t b i" style="left:864.99px;top:385.06px;font-size:14.4px;line-height:14.4px;color:#1565ae;">DC</span>
<span class="t c" style="left:858.9px;top:403.15px;font-size:7.4px;line-height:7.4px;color:#444;transform:scaleX(0.74);">ダイヤモンド</span>
<span class="t c" style="left:862.1px;top:412.25px;font-size:7.4px;line-height:7.4px;color:#444;transform:scaleX(0.88);">ディスク</span>
<span class="t b i" style="left:865.71px;top:427.81px;font-size:14.4px;line-height:14.4px;color:#1565ae;">SD</span>
<span class="t c" style="left:866.95px;top:445.9px;font-size:7.4px;line-height:7.4px;color:#444;transform:scaleX(0.955);">焼 結</span>
<span class="t c" style="left:858.9px;top:455px;font-size:7.4px;line-height:7.4px;color:#444;transform:scaleX(0.74);">ダイヤモンド</span>
<span class="t b i" style="left:864.76px;top:470.56px;font-size:14.4px;line-height:14.4px;color:#1565ae;">CC</span>
<span class="t c" style="left:868.55px;top:488.65px;font-size:7.4px;line-height:7.4px;color:#444;transform:scaleX(0.88);">超硬</span>
<span class="t c" style="left:862.1px;top:497.75px;font-size:7.4px;line-height:7.4px;color:#444;transform:scaleX(0.88);">カッター</span>
<span class="t b i" style="left:865.7px;top:513.31px;font-size:14.4px;line-height:14.4px;color:#1565ae;">TD</span>
<span class="t c" style="left:862.1px;top:531.4px;font-size:7.4px;line-height:7.4px;color:#444;transform:scaleX(0.88);">ツイスト</span>
<span class="t c" style="left:865.33px;top:540.5px;font-size:7.4px;line-height:7.4px;color:#444;transform:scaleX(0.88);">ドリル</span>
<span class="t b i" style="left:864.33px;top:556.06px;font-size:14.4px;line-height:14.4px;color:#1565ae;">MR</span>
<span class="t c" style="left:858.9px;top:574.15px;font-size:7.4px;line-height:7.4px;color:#444;transform:scaleX(0.74);">マンドレール</span>
<span class="t b i" style="left:864.92px;top:598.81px;font-size:14.4px;line-height:14.4px;color:#1565ae;">GS</span>
<span class="t c" style="left:868.55px;top:616.9px;font-size:7.4px;line-height:7.4px;color:#444;transform:scaleX(0.88);">砥石</span>
<span class="t b i" style="left:865.4px;top:641.56px;font-size:14.4px;line-height:14.4px;color:#1565ae;">AR</span>
<span class="t c" style="left:862.1px;top:659.65px;font-size:7.4px;line-height:7.4px;color:#444;transform:scaleX(0.88);">ゴム砥石</span>
<span class="t b i" style="left:865.82px;top:684.31px;font-size:14.4px;line-height:14.4px;color:#1565ae;">AS</span>
<span class="t c" style="left:862.1px;top:702.4px;font-size:7.4px;line-height:7.4px;color:#444;transform:scaleX(0.88);">サンダー</span>
<span class="t b i" style="left:864.15px;top:727.06px;font-size:14.4px;line-height:14.4px;color:#1565ae;">BM</span>
<span class="t c" style="left:865.33px;top:745.15px;font-size:7.4px;line-height:7.4px;color:#444;transform:scaleX(0.88);">ブラシ</span>
<span class="t b i" style="left:866.14px;top:769.81px;font-size:14.4px;line-height:14.4px;color:#1565ae;">FB</span>
<span class="t c" style="left:858.9px;top:787.9px;font-size:7.4px;line-height:7.4px;color:#444;transform:scaleX(0.74);">フェルトバフ</span>
<span class="t b i" style="left:865.39px;top:812.56px;font-size:14.4px;line-height:14.4px;color:#1565ae;">PC</span>
<span class="t c" style="left:858.9px;top:830.65px;font-size:7.4px;line-height:7.4px;color:#444;transform:scaleX(0.74);">ポリッシング</span>
<span class="t c" style="left:858.9px;top:839.75px;font-size:7.4px;line-height:7.4px;color:#444;transform:scaleX(0.74);">コンパウンド</span>
<span class="t b i" style="left:865.37px;top:855.31px;font-size:14.4px;line-height:14.4px;color:#fff;">HT</span>
<span class="t c" style="left:858.9px;top:873.4px;font-size:7.4px;line-height:7.4px;color:#fff;transform:scaleX(0.74);">ハンドツール</span>
<span class="t b i" style="left:865.64px;top:898.06px;font-size:14.4px;line-height:14.4px;color:#1565ae;">AT</span>
<span class="t c" style="left:862.1px;top:916.15px;font-size:7.4px;line-height:7.4px;color:#444;transform:scaleX(0.88);">アングル</span>
<span class="t c" style="left:862.1px;top:925.25px;font-size:7.4px;line-height:7.4px;color:#444;transform:scaleX(0.88);">専用工具</span>
<span class="t b i" style="left:865.37px;top:940.81px;font-size:14.4px;line-height:14.4px;color:#1565ae;">BT</span>
<span class="t c" style="left:858.9px;top:958.9px;font-size:7.4px;line-height:7.4px;color:#444;transform:scaleX(0.63);">ベルトサンダー</span>
<span class="t c" style="left:862.1px;top:968px;font-size:7.4px;line-height:7.4px;color:#444;transform:scaleX(0.88);">専用工具</span>
<span class="t b i" style="left:865.37px;top:983.56px;font-size:14.4px;line-height:14.4px;color:#1565ae;">RT</span>
<span class="t c" style="left:862.1px;top:1001.65px;font-size:7.4px;line-height:7.4px;color:#444;transform:scaleX(0.88);">レシプロ</span>
<span class="t c" style="left:862.1px;top:1010.75px;font-size:7.4px;line-height:7.4px;color:#444;transform:scaleX(0.88);">専用工具</span>
<span class="t b i" style="left:865.24px;top:1026.31px;font-size:14.4px;line-height:14.4px;color:#1565ae;">CP</span>
<span class="t c" style="left:865.33px;top:1044.4px;font-size:7.4px;line-height:7.4px;color:#444;transform:scaleX(0.88);">交換用</span>
<span class="t c" style="left:862.1px;top:1053.5px;font-size:7.4px;line-height:7.4px;color:#444;transform:scaleX(0.88);">専用工具</span>
<span class="t c" style="left:183.6px;top:1229.56px;font-size:12px;line-height:12px;color:#d6222c;transform:scaleX(0.97);">注</span>
<span class="t c" style="left:199.6px;top:1229.56px;font-size:12px;line-height:12px;color:#d6222c;transform:scaleX(0.97);">意</span>
<span class="t c" style="left:221.6px;top:1226.06px;font-size:10px;line-height:10px;color:#d6222c;">ルビーストーンスティックは、製法上の問題でφ2㎜とφ3㎜の丸棒に若干の歪みが生じる場合がありますのでご了承下さい。</span>
<span class="t c" style="left:221.6px;top:1237.95px;font-size:10px;line-height:10px;color:#d6222c;transform:scaleX(0.97);">また、基本は手作業用ハンドツールなので、安全のためφ3㎜の丸棒などをグラインダーに取り付けて使用しないで下さい。</span>
<span class="t sf b i" style="left:808.5px;top:1225.85px;font-size:20px;line-height:20px;color:#111;transform:scaleX(1.072);">184</span>
</body></html>
